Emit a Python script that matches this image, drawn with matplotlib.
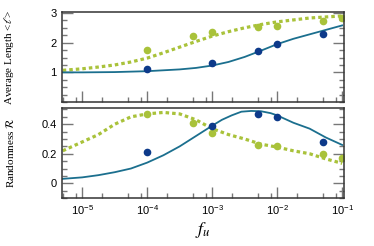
import numpy as np
import matplotlib
matplotlib.use('Agg')
import matplotlib.pyplot as plt
from matplotlib.ticker import LogLocator, MultipleLocator, NullFormatter

plt.rcParams['font.family'] = ['Liberation Sans', 'DejaVu Sans']
plt.rcParams['mathtext.fontset'] = 'custom'
plt.rcParams['mathtext.rm'] = 'Liberation Sans'
plt.rcParams['mathtext.it'] = 'Liberation Sans:italic'

# --- data ---
dots_fu = [1e-4, 5e-4, 1e-3, 5e-3, 1e-2, 5e-2, 1e-1]
len_green = [1.74, 2.21, 2.35, 2.52, 2.55, 2.72, 2.82]
rnd_green = [0.47, 0.41, 0.34, 0.26, 0.25, 0.20, 0.17]
blue_fu = [1e-4, 1e-3, 5e-3, 1e-2, 5e-2]
len_blue = [1.13, 1.33, 1.72, 1.95, 2.30]
rnd_blue = [0.21, 0.39, 0.47, 0.45, 0.28]

# curves (exponent of f_u, value)
len_line_exp = [-5.3, -5.0, -4.5, -4.0, -3.5, -3.25, -3.0, -2.75, -2.5, -2.25, -2.0,
                -1.75, -1.5, -1.25, -1.0]
len_line_val = [1.00, 1.00, 1.01, 1.04, 1.10, 1.15, 1.23, 1.35, 1.52, 1.73, 1.95,
                2.13, 2.28, 2.43, 2.58]
len_dot_exp = [-5.3, -5.0, -4.75, -4.5, -4.25, -4.0, -3.75, -3.5, -3.25, -3.0, -2.75,
               -2.5, -2.25, -2.0, -1.5, -1.0]
len_dot_val = [1.07, 1.12, 1.18, 1.25, 1.35, 1.48, 1.66, 1.85, 2.04, 2.22, 2.37,
               2.50, 2.61, 2.70, 2.83, 2.90]
rnd_line_exp = [-5.3, -5.0, -4.75, -4.5, -4.25, -4.0, -3.75, -3.5, -3.25, -3.0, -2.85,
                -2.7, -2.55, -2.4, -2.25, -2.1, -2.0, -1.75, -1.5, -1.25, -1.0]
rnd_line_val = [0.03, 0.04, 0.055, 0.075, 0.10, 0.14, 0.19, 0.25, 0.32, 0.39, 0.43,
                0.46, 0.485, 0.49, 0.488, 0.475, 0.46, 0.41, 0.37, 0.31, 0.26]
rnd_dot_exp = [-5.3, -5.0, -4.75, -4.5, -4.25, -4.0, -3.75, -3.5, -3.25, -3.0, -2.75,
               -2.5, -2.25, -2.0, -1.75, -1.5, -1.25, -1.0]
rnd_dot_val = [0.22, 0.28, 0.33, 0.40, 0.45, 0.47, 0.48, 0.47, 0.43, 0.37, 0.33,
               0.30, 0.265, 0.245, 0.22, 0.20, 0.165, 0.135]

GREEN = '#a9c23a'
NAVY = '#0d3a8a'
TEAL = '#1b6f8e'
TICK = '#777777'

fig = plt.figure(figsize=(3.74, 2.46), dpi=100)
ax1 = fig.add_axes([0.166, 0.585, 0.754, 0.366])
ax2 = fig.add_axes([0.166, 0.195, 0.754, 0.366])

dash = (0, (1.1, 0.95))
ax1.plot(10**np.array(len_dot_exp), len_dot_val, ls=dash, lw=2.3, color=GREEN)
ax1.plot(10**np.array(len_line_exp), len_line_val, '-', lw=1.3, color=TEAL)
ax1.plot(dots_fu, len_green, 'o', ms=5.5, color=GREEN, mec='none')
ax1.plot(blue_fu, len_blue, 'o', ms=5.5, color=NAVY, mec='none')

ax2.plot(10**np.array(rnd_dot_exp), rnd_dot_val, ls=dash, lw=2.3, color=GREEN)
ax2.plot(10**np.array(rnd_line_exp), rnd_line_val, '-', lw=1.3, color=TEAL)
ax2.plot(dots_fu, rnd_green, 'o', ms=5.5, color=GREEN, mec='none')
ax2.plot(blue_fu, rnd_blue, 'o', ms=5.5, color=NAVY, mec='none')

for ax in (ax1, ax2):
    ax.set_xscale('log')
    ax.set_xlim(10**-5.31, 10**-0.97)
    ax.xaxis.set_major_locator(LogLocator(base=10, numticks=10))
    ax.xaxis.set_minor_locator(LogLocator(base=10, subs=[2, 5, 8], numticks=10))
    ax.xaxis.set_minor_formatter(NullFormatter())
    ax.tick_params(which='both', direction='in', top=False, right=True,
                   color=TICK, width=1.0, labelsize=8, pad=4)
    ax.tick_params(which='major', length=8)
    ax.tick_params(which='minor', length=3.6)
    for s in ax.spines.values():
        s.set_color('#333333')
        s.set_linewidth(1.1)

ax1.set_ylim(0, 3.03)
ax1.yaxis.set_minor_locator(MultipleLocator(0.25))
ax1.set_yticks([1, 2, 3])
ax1.tick_params(labelbottom=False)

ax2.set_ylim(-0.10, 0.51)
ax2.set_yticks([0, 0.2, 0.4])
ax2.set_yticklabels(['0', '0.2', '0.4'])
ax2.yaxis.set_minor_locator(MultipleLocator(0.05))

ax1.set_ylabel(r'Average Length <$\ell$>', family='Liberation Serif', fontsize=8,
               math_fontfamily='stix')
ax2.set_ylabel(r'Randomness $\mathcal{R}$', family='Liberation Serif', fontsize=8,
               math_fontfamily='stix')
ax1.yaxis.set_label_coords(-0.165, 0.5)
ax2.yaxis.set_label_coords(-0.165, 0.5)
ax2.set_xlabel(r'$f_u$', fontsize=13, math_fontfamily='stix', labelpad=2)

fig.savefig('out.png', dpi=100)
